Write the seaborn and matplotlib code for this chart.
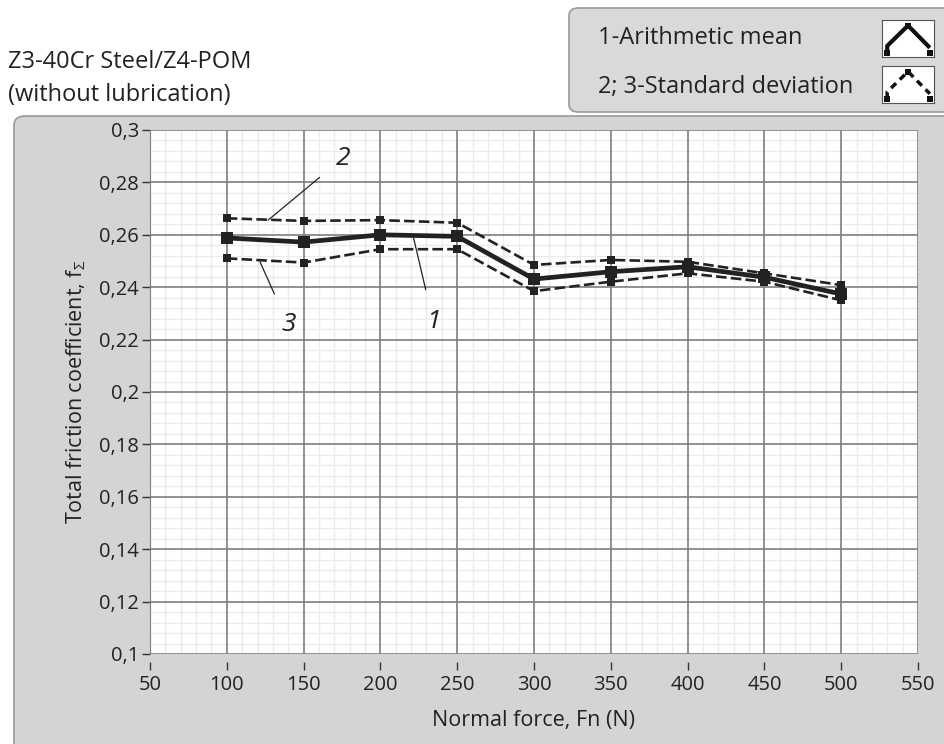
import numpy as np
import pandas as pd
import matplotlib
matplotlib.use('Agg')
import matplotlib.pyplot as plt
import seaborn as sns
from matplotlib.patches import FancyBboxPatch
from matplotlib.ticker import MultipleLocator, FuncFormatter

# data
force = [100, 150, 200, 250, 300, 350, 400, 450, 500]
mean_f = [0.2588, 0.2572, 0.2600, 0.2594, 0.2431, 0.2459, 0.2478, 0.2438, 0.2374]
upper_f = [0.2663, 0.2653, 0.2656, 0.2646, 0.2485, 0.2504, 0.2497, 0.2453, 0.2408]
lower_f = [0.2510, 0.2494, 0.2545, 0.2545, 0.2385, 0.2421, 0.2453, 0.2421, 0.2350]

title_lines = ['Z3-40Cr Steel/Z4-POM', '(without lubrication)']
legend_labels = ['1-Arithmetic mean', '2; 3-Standard deviation']

# curve numbers: label, text pos (x, y), pointed pos (x, y)
callouts = [('2', 175.6, 0.2893, 126.9, 0.2656),
            ('3', 140.0, 0.2256, 121.6, 0.2497),
            ('1', 234.4, 0.2268, 221.4, 0.2593)]

sns.set_style('white')
plt.rcParams['font.family'] = ['Open Sans', 'DejaVu Sans']

fig = plt.figure(figsize=(9.44, 7.44), dpi=100)
fig.patch.set_facecolor('white')
W, H = 944, 744

def fx(px):
    return px / W

def fy(py):
    return 1 - py / H

# grey panel behind the graph
panel = FancyBboxPatch((fx(14), fy(744) - 0.02), fx(960) - fx(14), fy(116) - fy(744) + 0.02,
                       boxstyle='round,pad=0,rounding_size=0.012', transform=fig.transFigure,
                       facecolor='#d4d4d4', edgecolor='#9a9a9a', linewidth=1.2, zorder=-10)
fig.patches.append(panel)

# legend box top right
lbox = FancyBboxPatch((fx(569), fy(112)), fx(960) - fx(569), fy(8) - fy(112),
                      boxstyle='round,pad=0,rounding_size=0.01', transform=fig.transFigure,
                      facecolor='#d9d9d9', edgecolor='#9a9a9a', linewidth=1.2, zorder=-10)
fig.patches.append(lbox)
fig.text(fx(598), fy(38), legend_labels[0], fontsize=17, color='#222222', va='center', ha='left')
fig.text(fx(598), fy(87), legend_labels[1], fontsize=17, color='#222222', va='center', ha='left')

for top, ls, lw in [(20, '-', 3.0), (66, (0, (2, 1.5)), 2.5)]:
    iax = fig.add_axes([fx(882), fy(top + 37), fx(52), fy(top) - fy(top + 37)])
    iax.set_facecolor('white')
    for s in iax.spines.values():
        s.set_color('#555555')
    iax.set_xticks([])
    iax.set_yticks([])
    iax.set_xlim(0, 1)
    iax.set_ylim(0, 1)
    iax.plot([0.1, 0.1, 0.5, 0.92], [0.12, 0.3, 0.85, 0.25], color='#111111', lw=lw, ls=ls,
             marker='s', markersize=5, markeredgewidth=0, markevery=[0, 2], solid_capstyle='butt')
    iax.plot([0.92], [0.12], color='#111111', lw=0, marker='s', markersize=5, markeredgewidth=0)

# title text
fig.text(fx(8), fy(62), title_lines[0], fontsize=17, color='#222222', va='center')
fig.text(fx(8), fy(95), title_lines[1], fontsize=17, color='#222222', va='center')

ax = fig.add_axes([fx(150), fy(654), fx(918) - fx(150), fy(130) - fy(654)])
ax.set_facecolor('white')

df = pd.DataFrame({'force': force, 'mean': mean_f, 'upper': upper_f, 'lower': lower_f})

sns.lineplot(data=df, x='force', y='upper', ax=ax, color='#222222', lw=1.9,
             linestyle=(0, (4, 1.6)), marker='s', markersize=6, markeredgewidth=0, zorder=3)
sns.lineplot(data=df, x='force', y='lower', ax=ax, color='#222222', lw=1.9,
             linestyle=(0, (4, 1.6)), marker='s', markersize=6, markeredgewidth=0, zorder=3)
sns.lineplot(data=df, x='force', y='mean', ax=ax, color='#222222', lw=3.4,
             marker='s', markersize=8.5, markeredgewidth=0, zorder=4)

ax.set_xlim(50, 550)
ax.set_ylim(0.1, 0.3)
ax.xaxis.set_major_locator(MultipleLocator(50))
ax.xaxis.set_minor_locator(MultipleLocator(10))
ax.yaxis.set_major_locator(MultipleLocator(0.02))
ax.yaxis.set_minor_locator(MultipleLocator(0.004))
ax.yaxis.set_major_formatter(FuncFormatter(lambda v, p: ('%g' % round(v, 3)).replace('.', ',')))
ax.grid(which='minor', color='#ebebeb', lw=1.0)
ax.set_axisbelow(True)
# major grid drawn above the minor grid so crossings do not break it
for xv in ax.get_xticks():
    ax.axvline(xv, color='#7e7e7e', lw=1.2, zorder=1)
for yv in ax.get_yticks():
    ax.axhline(yv, color='#7e7e7e', lw=1.2, zorder=1)
ax.set_xlim(50, 550)
ax.set_ylim(0.1, 0.3)

for s in ['top', 'right']:
    ax.spines[s].set_visible(False)
ax.spines['left'].set_color('#7e7e7e')
ax.spines['bottom'].set_position(('outward', 6))
ax.spines['bottom'].set_visible(False)

ax.tick_params(axis='both', which='major', direction='out', length=6, width=1.0,
               color='#333333', labelsize=14.5, labelcolor='#222222', pad=2)
ax.tick_params(axis='x', which='major', bottom=True, pad=3)
ax.tick_params(axis='y', which='major', left=True)
ax.tick_params(which='minor', length=0)

ax.set_xlabel('Normal force, Fn (N)', fontsize=15.5, color='#222222', labelpad=11)
ax.set_ylabel('Total friction coefficient, $\\mathregular{f}_{\\mathregular{\\Sigma}}$',
              fontsize=15.5, color='#222222', labelpad=8)

for txt, tx, ty, lx, ly in callouts:
    ax.annotate(txt, xy=(lx, ly), xytext=(tx, ty), fontsize=19, style='italic',
                color='#222222', ha='center', va='center',
                arrowprops=dict(arrowstyle='-', color='#222222', lw=0.9, shrinkA=12, shrinkB=0))

fig.savefig('out.png', dpi=100)
